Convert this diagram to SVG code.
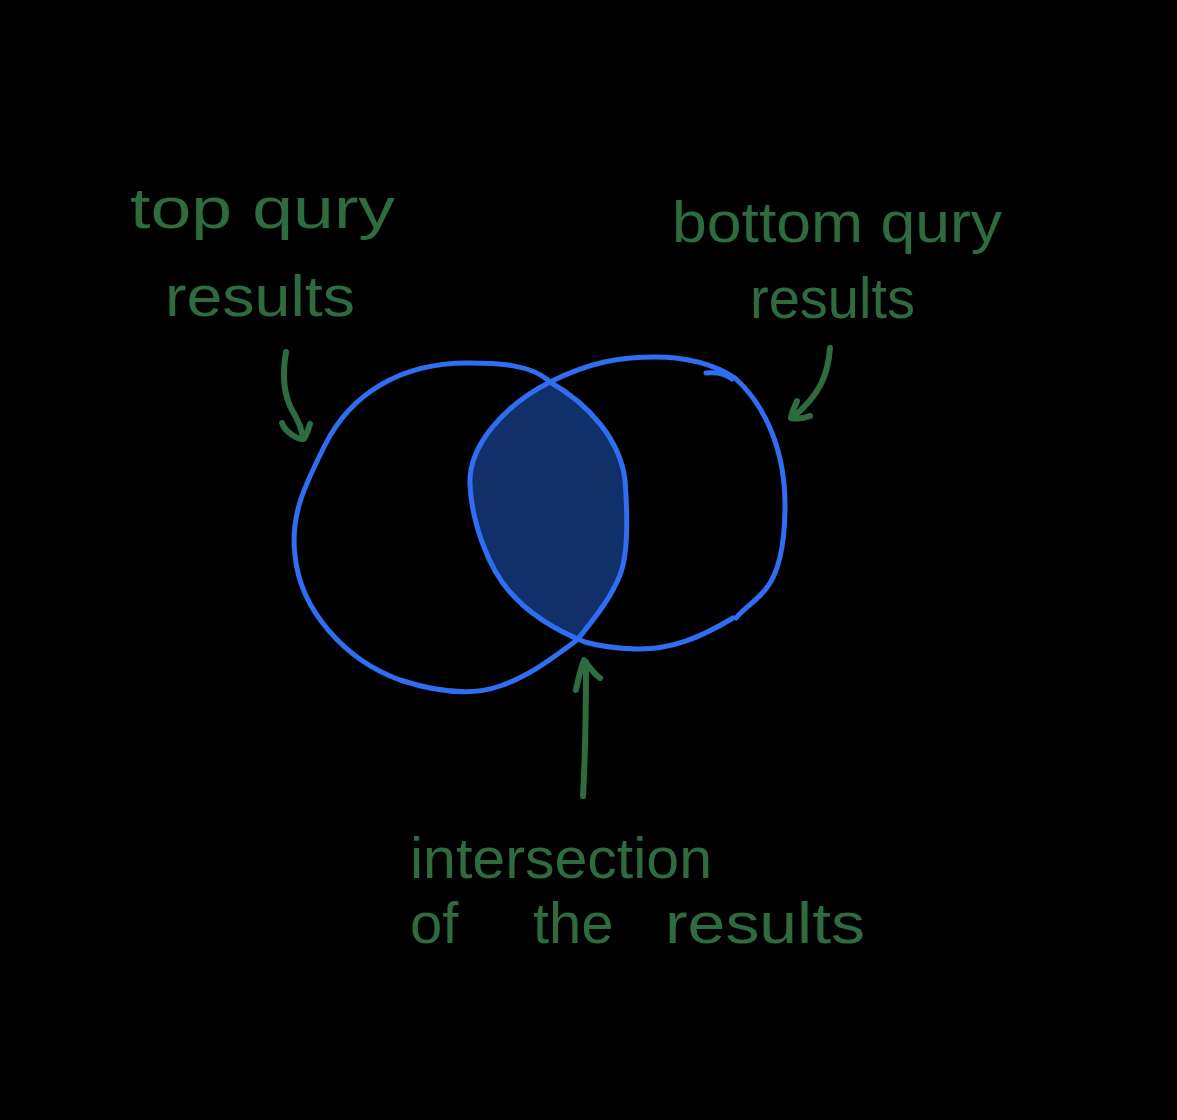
<svg xmlns="http://www.w3.org/2000/svg" width="1177" height="1120" viewBox="0 0 1177 1120">
<style>
.lbl{font-family:"Liberation Sans","DejaVu Sans",sans-serif;font-size:58px;fill:#2e6b3e}
.ring{fill:none;stroke:#2f6ef2;stroke-width:5;stroke-linecap:round;stroke-linejoin:round}
.arr{fill:none;stroke:#2e6b3e;stroke-width:6;stroke-linecap:round;stroke-linejoin:round}
</style>
<rect width="1177" height="1120" fill="#000"/>
<g id="intersection">
<path d="M 550,382 C 505,405 468,445 470,485 C 472,525 490,570 510,592 C 530,615 560,632 577,640 C 600,612 612,595 620,575 C 628,555 628,520 625,480 C 620,440 590,405 550,382 Z" fill="#11306a"/>
</g>
<g id="top-query-circle">
<path class="ring" d="M 548,380 C 530,365 500,363 470,363 C 400,362 350,395 325,445 C 305,485 290,515 295,555 C 300,610 345,660 400,680 C 440,693 475,695 500,686 C 530,676 555,656 577,640 C 600,612 612,595 620,575 C 628,555 628,520 625,480 C 620,440 590,405 550,382"/>
</g>
<g id="bottom-query-circle">
<path class="ring" d="M 550,382 C 590,362 620,357 655,357 C 690,357 715,365 735,378 C 765,405 785,450 785,505 C 785,545 778,575 765,590 C 755,602 742,610 736,618"/>
<path class="ring" d="M 733,618 C 700,638 670,650 635,649 C 610,648 595,645 585,642 C 560,632 530,615 510,592 C 490,570 472,525 470,485 C 468,445 505,405 550,382"/>
<path class="ring" d="M 706,373 C 716,372 726,374 732,379"/>
</g>
<g id="labels">
<text class="lbl" x="130" y="228" textLength="265" lengthAdjust="spacingAndGlyphs">top qury</text>
<text class="lbl" x="165" y="316" textLength="190" lengthAdjust="spacingAndGlyphs">results</text>
<text class="lbl" x="672" y="242" textLength="330" lengthAdjust="spacingAndGlyphs">bottom qury</text>
<text class="lbl" x="750" y="318" textLength="165" lengthAdjust="spacingAndGlyphs">results</text>
<text class="lbl" x="410" y="878" textLength="302" lengthAdjust="spacingAndGlyphs">intersection</text>
<text class="lbl" y="943"><tspan x="410">of</tspan><tspan x="533">the</tspan><tspan x="665" textLength="200" lengthAdjust="spacingAndGlyphs">results</tspan></text>
</g>
<g id="connectors">
<path class="arr" d="M 286,352 C 282,375 284,395 292,410 C 298,420 302,430 303,438"/>
<path class="arr" d="M 282,423 C 285,432 298,440 304,439 C 307,433 309,428 310,424"/>
<path class="arr" d="M 830,348 C 828,375 820,395 792,418"/>
<path class="arr" d="M 797,401 C 794,408 791,414 791,418 C 797,419 805,418 810,416"/>
<path class="arr" d="M 583,796 C 585,760 586,720 586,662"/>
<path class="arr" d="M 576,690 C 578,680 581,668 584,660 C 590,668 595,675 600,678"/>
</g>
</svg>
